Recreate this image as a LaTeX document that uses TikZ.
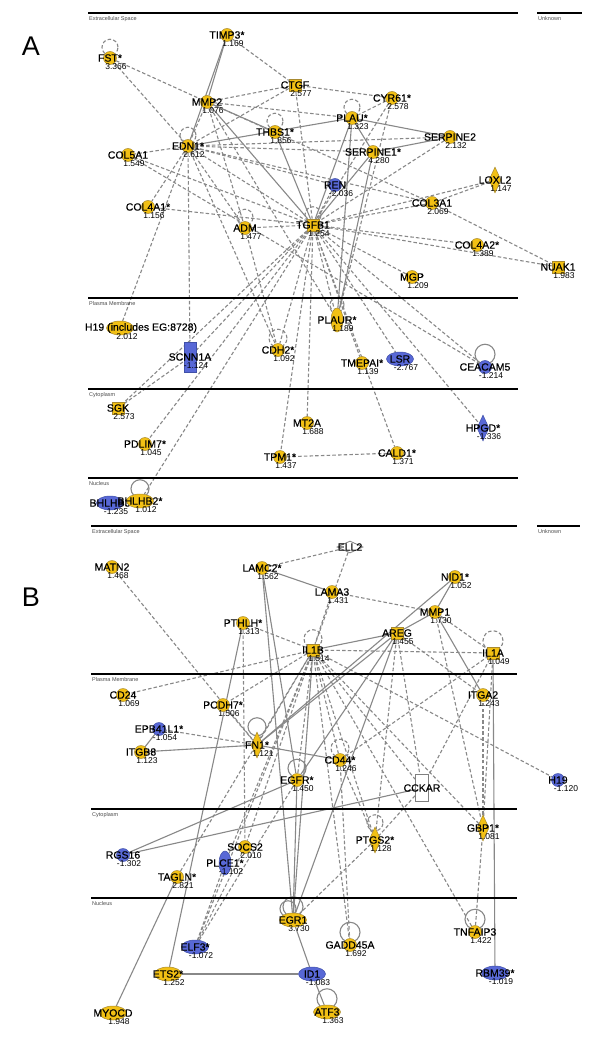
\documentclass[tikz,border=0pt]{standalone}
\usepackage{fontspec}
\setmainfont{Liberation Sans}
\newfontfamily\nmfont[FakeBold=0.4]{Liberation Sans}
\usetikzlibrary{shapes.geometric,backgrounds}
\definecolor{ygold}{HTML}{F2C014}
\definecolor{yborder}{HTML}{A88A30}
\definecolor{bfill}{HTML}{5868D6}
\definecolor{bborder}{HTML}{4050A8}
\definecolor{egray}{HTML}{888888}
\newcommand\gn[5]{%
  \node[#2] (#1) at (#3) {};
  \node[nm] (#1n) at (#1.center) {#4};
  \node[vl] (#1v) at ([xshift=6pt,yshift=-9pt]#1.center) {#5};
}
\newcommand\sloop[3]{\draw[#2] ([yshift=#3-4pt]#1.north) circle (#3);}
\begin{document}
\begin{tikzpicture}[x=1pt,y=-1pt,
  yc/.style={circle,fill=ygold,draw=yborder,line width=0.5pt,minimum size=13pt,inner sep=0pt},
  bc/.style={circle,fill=bfill,draw=bborder,line width=0.5pt,minimum size=13pt,inner sep=0pt},
  ysq/.style={rectangle,fill=ygold,draw=yborder,line width=0.5pt,minimum size=12pt,inner sep=0pt},
  yell/.style={ellipse,fill=ygold,draw=yborder,line width=0.5pt,minimum width=27pt,minimum height=14pt,inner sep=0pt},
  bell/.style={ellipse,fill=bfill,draw=bborder,line width=0.5pt,minimum width=27pt,minimum height=14pt,inner sep=0pt},
  ytall/.style={ellipse,fill=ygold,draw=yborder,line width=0.5pt,minimum width=12pt,minimum height=24pt,inner sep=0pt},
  btall/.style={ellipse,fill=bfill,draw=bborder,line width=0.5pt,minimum width=12pt,minimum height=24pt,inner sep=0pt},
  ydia/.style={diamond,fill=ygold,draw=yborder,line width=0.5pt,minimum width=12pt,minimum height=26pt,inner sep=0pt,shape aspect=0.45},
  bdia/.style={diamond,fill=bfill,draw=bborder,line width=0.5pt,minimum width=12pt,minimum height=26pt,inner sep=0pt,shape aspect=0.45},
  brect/.style={rectangle,fill=bfill,draw=bborder,line width=0.5pt,minimum width=12pt,minimum height=30pt,inner sep=0pt},
  wrect/.style={rectangle,fill=white,draw=gray,line width=1pt,minimum width=13pt,minimum height=27pt,inner sep=0pt},
  wdia/.style={diamond,fill=white,draw=gray,line width=0.8pt,minimum width=26pt,minimum height=12pt,inner sep=0pt},
  nm/.style={font=\nmfont\fontsize{10.5}{11}\selectfont,inner sep=0pt,text=black},
  vl/.style={font=\fontsize{8.5}{9}\selectfont,inner sep=0pt,text=black},
  cl/.style={font=\fontsize{5.5}{6}\selectfont,text=black!70,inner sep=0pt,anchor=north west},
  sl/.style={draw=egray,line width=1.1pt},
  dl/.style={draw=egray,line width=1.1pt,dash pattern=on 3.5pt off 2.2pt},
  cline/.style={line width=2.4pt,black},
  tline/.style={line width=1.5pt,black},
  big/.style={font=\fontsize{27}{28}\selectfont,inner sep=0pt}
]
\useasboundingbox (0,0) rectangle (600,1043);
\begin{scope}[on background layer]
\fill[white] (0,0) rectangle (600,1043);
\end{scope}

% panel letters
\node[big] (lA) at (31,46) {A};
\node[big] (lB) at (31,597) {B};

% ---------------- compartments A
\coordinate (a1l) at (88,13); \coordinate (a1r) at (518,13);
\coordinate (a1ul) at (537,13); \coordinate (a1ur) at (582,13);
\draw[tline] (a1l) -- (a1r); \draw[tline] (a1ul) -- (a1ur);
\node[cl] (tES) at (89,16) {Extracellular Space};
\node[cl] (tUN) at (538,16) {Unknown};
\coordinate (a2l) at (88,298); \coordinate (a2r) at (518,298);
\draw[cline] (a2l) -- (a2r);
\node[cl] (tPM) at (89,301) {Plasma Membrane};
\coordinate (a3l) at (88,389); \coordinate (a3r) at (518,389);
\draw[cline] (a3l) -- (a3r);
\node[cl] (tCY) at (89,392) {Cytoplasm};
\coordinate (a4l) at (88,478); \coordinate (a4r) at (518,478);
\draw[cline] (a4l) -- (a4r);
\node[cl] (tNU) at (89,481) {Nucleus};

% ---------------- compartments B
\coordinate (b1l) at (91,526); \coordinate (b1r) at (517,526);
\coordinate (b1ul) at (537,526); \coordinate (b1ur) at (580,526);
\draw[tline] (b1l) -- (b1r); \draw[tline] (b1ul) -- (b1ur);
\node[cl] (tES2) at (92,529) {Extracellular Space};
\node[cl] (tUN2) at (538,529) {Unknown};
\coordinate (b2l) at (91,674); \coordinate (b2r) at (517,674);
\draw[cline] (b2l) -- (b2r);
\node[cl] (tPM2) at (92,677) {Plasma Membrane};
\coordinate (b3l) at (91,809); \coordinate (b3r) at (517,809);
\draw[cline] (b3l) -- (b3r);
\node[cl] (tCY2) at (92,812) {Cytoplasm};
\coordinate (b4l) at (91,898); \coordinate (b4r) at (517,898);
\draw[cline] (b4l) -- (b4r);
\node[cl] (tNU2) at (92,901) {Nucleus};

% ---------------- nodes A
\gn{FST}{yc}{110,58}{FST*}{3.366}
\gn{TIMP3}{yc}{227,35}{TIMP3*}{1.169}
\gn{MMP2}{yc}{207,102}{MMP2}{1.076}
\gn{CTGF}{ysq}{295,85}{CTGF}{2.577}
\gn{CYR61}{yc}{392,98}{CYR61*}{2.578}
\gn{PLAU}{yc}{352,118}{PLAU*}{1.323}
\gn{THBS1}{yc}{275,132}{THBS1*}{1.856}
\gn{EDN1}{yc}{188,146}{EDN1*}{2.612}
\gn{COL5A1}{yc}{128,155}{COL5A1}{1.549}
\gn{SERPINE2}{yc}{450,137}{SERPINE2}{2.132}
\gn{SERPINE1}{yc}{373,152}{SERPINE1*}{4.280}
\gn{LOXL2}{ydia}{495,180}{LOXL2}{1.147}
\gn{REN}{bc}{335,185}{REN}{-2.036}
\gn{COL3A1}{yc}{432,203}{COL3A1}{2.069}
\gn{COL4A1}{yc}{148,207}{COL4A1*}{1.156}
\gn{ADM}{yc}{245,228}{ADM}{1.477}
\gn{TGFB1}{ysq}{313,225}{TGFB1}{1.254}
\gn{COL4A2}{yc}{477,245}{COL4A2*}{1.389}
\gn{NUAK1}{ysq}{558,267}{NUAK1}{1.983}
\gn{MGP}{yc}{412,277}{MGP}{1.209}
\node[yell] (H19A) at (120,328) {};
\begin{scope}
\clip (77,310) rectangle (270,345);
\node[nm] (H19An) at (141,328) {H19 (includes EG:8728)};
\end{scope}
\node[vl] (H19Av) at (127,337) {2.012};
\gn{SCNN1A}{brect}{190,357}{SCNN1A}{-1.124}
\gn{CDH2}{yc}{278,350}{CDH2*}{1.092}
\gn{PLAUR}{ytall}{337,320}{PLAUR*}{1.189}
\gn{TMEPAI}{yc}{362,363}{TMEPAI*}{1.139}
\gn{LSR}{bell}{400,359}{LSR}{-2.767}
\gn{CEACAM5}{bc}{485,367}{CEACAM5}{-1.214}
\gn{SGK}{ysq}{118,408}{SGK}{2.573}
\gn{PDLIM7}{yc}{145,444}{PDLIM7*}{1.045}
\gn{MT2A}{yc}{307,423}{MT2A}{1.688}
\gn{TPM1}{yc}{280,457}{TPM1*}{1.437}
\gn{CALD1}{yc}{397,453}{CALD1*}{1.371}
\gn{HPGD}{bdia}{483,428}{HPGD*}{-1.336}
\gn{BHLHB3}{bell}{110,503}{BHLHB3}{-1.235}
\gn{BHLHB2}{yell}{140,501}{BHLHB2*}{1.012}

% ---------------- nodes B
\gn{MATN2}{yc}{112,567}{MATN2}{1.468}
\gn{LAMC2}{yc}{262,568}{LAMC2*}{1.562}
\gn{ELL2}{wdia}{350,547}{ELL2}{}
\gn{LAMA3}{yc}{332,592}{LAMA3}{1.431}
\gn{NID1}{yc}{455,577}{NID1*}{1.052}
\gn{MMP1}{yc}{435,612}{MMP1}{1.730}
\gn{PTHLH}{yc}{243,623}{PTHLH*}{1.313}
\gn{AREG}{ysq}{397,633}{AREG}{1.455}
\gn{IL1B}{ysq}{313,650}{IL1B}{1.514}
\gn{IL1A}{ysq}{493,653}{IL1A}{1.049}
\gn{CD24}{yc}{123,695}{CD24}{1.069}
\gn{PCDH7}{yc}{223,705}{PCDH7*}{1.506}
\gn{EPB}{bc}{159,729}{EPB41L1*}{-1.054}
\gn{ITGB8}{yc}{141,752}{ITGB8}{1.123}
\gn{FN1}{ydia}{257,745}{FN1*}{1.121}
\gn{EGFR}{yc}{297,780}{EGFR*}{1.450}
\gn{ITGA2}{yc}{483,695}{ITGA2}{1.243}
\gn{CD44}{yc}{340,760}{CD44*}{1.246}
\gn{CCKAR}{wrect}{422,788}{CCKAR}{}
\node[bc] (H19B) at (558,780) {};
\node[nm] (H19Bn) at (558,780) {H19};
\begin{scope}
\clip (540,780) rectangle (579,795);
\node[vl] (H19Bv) at (566,789) {-1.120};
\end{scope}
\gn{GBP1}{ydia}{483,828}{GBP1*}{1.081}
\gn{PTGS2}{ydia}{375,840}{PTGS2*}{1.128}
\gn{RGS16}{bc}{123,855}{RGS16}{-1.302}
\gn{SOCS2}{yc}{245,847}{SOCS2}{2.010}
\gn{PLCE1}{btall}{225,863}{PLCE1*}{-1.102}
\gn{TAGLN}{yc}{177,877}{TAGLN*}{2.821}
\gn{EGR1}{yell}{293,920}{EGR1}{3.730}
\gn{ELF3}{bell}{195,947}{ELF3*}{-1.072}
\gn{ETS2}{yell}{168,974}{ETS2*}{1.252}
\gn{ID1}{bell}{312,974}{ID1}{-1.083}
\gn{MYOCD}{yell}{113,1013}{MYOCD}{1.948}
\gn{GADD}{yc}{350,945}{GADD45A}{1.692}
\gn{TNFAIP3}{yc}{475,932}{TNFAIP3}{1.422}
\gn{RBM39}{bell}{495,973}{RBM39*}{-1.019}
\gn{ATF3}{yell}{327,1012}{ATF3}{1.363}

\begin{scope}[on background layer]
% ---- A solid
\foreach \a/\b in {TIMP3/MMP2,TIMP3/EDN1,MMP2/THBS1,MMP2/TGFB1,EDN1/PLAU,THBS1/TGFB1,
  PLAU/SERPINE2,PLAU/SERPINE1,SERPINE1/SERPINE2,PLAU/PLAUR,SERPINE1/PLAUR,SERPINE1/TGFB1,PLAU/TGFB1}
  \draw[sl] (\a) -- (\b);
% ---- A dashed
\foreach \a/\b in {FST/MMP2,FST/EDN1,TIMP3/CTGF,MMP2/CTGF,MMP2/EDN1,MMP2/PLAU,MMP2/PLAUR,MMP2/COL3A1,MMP2/ADM,
  CTGF/CYR61,CTGF/EDN1,CTGF/TGFB1,CYR61/PLAU,CYR61/PLAUR,CYR61/TGFB1,EDN1/COL5A1,EDN1/SERPINE2,
  EDN1/SERPINE1,EDN1/REN,EDN1/COL3A1,EDN1/COL4A1,EDN1/SCNN1A,EDN1/H19A,EDN1/ADM,EDN1/TGFB1,EDN1/CDH2,
  COL5A1/TGFB1,COL5A1/CEACAM5,COL4A1/TGFB1,ADM/TGFB1,ADM/CDH2,REN/TGFB1,COL3A1/TGFB1,LOXL2/TGFB1,
  LOXL2/COL3A1,COL3A1/NUAK1,COL4A2/TGFB1,NUAK1/TGFB1,MGP/TGFB1,TGFB1/PLAUR,TGFB1/CDH2,TGFB1/TMEPAI,
  TGFB1/LSR,TGFB1/CEACAM5,TGFB1/HPGD,TGFB1/MT2A,TGFB1/TPM1,TGFB1/CALD1,TGFB1/SGK,TGFB1/PDLIM7,
  TGFB1/BHLHB2,TGFB1/SCNN1A,SERPINE2/TGFB1,TPM1/CALD1,SGK/SCNN1A}
  \draw[dl] (\a) -- (\b);
% ---- B solid
\foreach \a/\b in {LAMC2/LAMA3,LAMC2/EGFR,LAMC2/EGR1,PTHLH/ETS2,NID1/MMP1,NID1/FN1,MMP1/AREG,MMP1/ITGA2,
  AREG/IL1B,AREG/FN1,AREG/EGFR,AREG/EGR1,IL1A/RBM39,FN1/ITGB8,EPB/ITGB8,FN1/CD44,EGFR/RGS16,RGS16/CCKAR,
  EGR1/ID1,ETS2/ID1,ID1/ATF3,MYOCD/TAGLN,EGR1/EGFR,EGR1/IL1B}
  \draw[sl] (\a) -- (\b);
% ---- B dashed
\foreach \a/\b in {MATN2/FN1,LAMC2/ELL2,ELL2/IL1B,LAMA3/MMP1,LAMA3/IL1B,PTHLH/IL1B,PTHLH/SOCS2,IL1B/IL1A,
  IL1B/CD24,MMP1/IL1A,MMP1/GBP1,IL1B/PCDH7,IL1B/FN1,IL1B/EGFR,IL1B/CD44,IL1B/CCKAR,IL1B/H19B,IL1B/GBP1,
  IL1B/PTGS2,IL1B/SOCS2,IL1B/PLCE1,IL1B/GADD,IL1B/TNFAIP3,IL1B/ELF3,AREG/ITGA2,FN1/EPB,FN1/PCDH7,
  CD44/PTGS2,CD44/GADD,CD44/IL1A,TNFAIP3/GBP1,GBP1/ITGA2,GBP1/IL1A,SOCS2/ELF3,PLCE1/ELF3,AREG/PTGS2,
  AREG/CCKAR,IL1A/CCKAR,CCKAR/PTGS2,TAGLN/IL1B,PTGS2/EGR1,ELF3/EGFR}
  \draw[dl] (\a) -- (\b);
% ---- self loops
\sloop{FST}{dl}{8pt}
\sloop{EDN1}{dl}{8pt}
\sloop{THBS1}{dl}{8pt}
\sloop{PLAU}{dl}{8pt}
\sloop{ADM}{dl}{8pt}
\sloop{TGFB1}{dl}{8pt}
\sloop{PLAUR}{dl}{7pt}
\sloop{CDH2}{dl}{9pt}
\sloop{CEACAM5}{sl}{10pt}
\sloop{BHLHB2}{sl}{9pt}
\sloop{IL1B}{dl}{9pt}
\sloop{IL1A}{dl}{10pt}
\sloop{FN1}{sl}{9pt}
\sloop{EGFR}{sl}{9pt}
\sloop{CD44}{dl}{9pt}
\sloop{PTGS2}{dl}{8pt}
\sloop{EGR1}{sl}{10pt}
\draw[sl] ([xshift=-5pt,yshift=4pt]EGR1.north) circle (8pt);
\sloop{GADD}{sl}{10pt}
\sloop{TNFAIP3}{sl}{10pt}
\sloop{ATF3}{sl}{10pt}
\end{scope}
\end{tikzpicture}
\end{document}
